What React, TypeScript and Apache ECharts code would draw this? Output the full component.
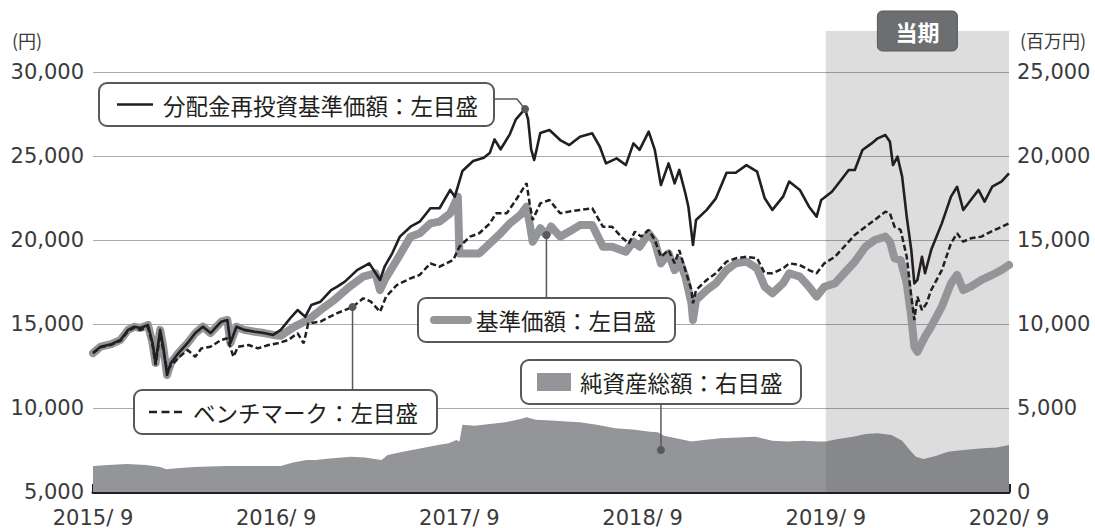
import { useEffect, useRef } from "react";
import * as echarts from "echarts";

// x = months since 2015/9 (0 .. 60)
const yearLabels = ["2015", "2016", "2017", "2018", "2019", "2020"];
const periodStart = 48; // 2019/9
const periodEnd = 60; // 2020/9
const periodLabel = "当期";

// 分配金再投資基準価額 (円, left axis)
const reinvNav: [number, number][] = [
  [0, 13270], [0.5, 13650], [1.2, 13800], [1.8, 14050], [2.3, 14650], [2.7, 14840],
  [3.1, 14760], [3.6, 14940], [3.9, 13870], [4.1, 12680], [4.4, 14650], [4.6, 13650],
  [4.85, 11960], [5.1, 12680], [5.6, 13270], [6.2, 13870], [6.7, 14460], [7.2, 14840],
  [7.7, 14460], [8.4, 15140], [8.8, 15240], [9.0, 13870], [9.4, 14840], [9.9, 14650],
  [10.6, 14540], [11.2, 14460], [11.8, 14350], [12.3, 14650], [13.0, 15430], [13.4, 15830],
  [13.9, 15430], [14.3, 16130], [14.9, 16330], [15.6, 17020], [16.0, 17220], [16.5, 17520],
  [17.3, 18210], [18.1, 18610], [18.8, 17620], [19.1, 18410], [19.6, 19210], [20.1, 20200],
  [20.8, 20790], [21.4, 21090], [22.1, 21890], [22.7, 21890], [23.4, 22980], [23.7, 22580],
  [24.2, 24110], [24.9, 24700], [25.6, 24900], [26.0, 25200], [26.3, 25990], [26.7, 25400],
  [27.3, 26290], [27.7, 27180], [28.3, 27800], [28.5, 27180], [28.7, 25400], [28.9, 24760],
  [29.3, 26370], [29.9, 26550], [30.6, 25950], [31.2, 25650], [31.9, 26150], [32.7, 26350],
  [33.2, 25550], [33.6, 24560], [34.3, 24860], [34.9, 24460], [35.4, 25750], [35.8, 25360],
  [36.4, 26450], [36.8, 25360], [37.2, 23270], [37.7, 24560], [38.1, 23370], [38.4, 24170],
  [38.8, 22780], [39.0, 21980], [39.3, 19700], [39.5, 21190], [40.2, 21790], [40.8, 22480],
  [41.5, 24000], [42.1, 24000], [42.8, 24460], [43.5, 24070], [44.0, 22480], [44.5, 21790],
  [45.2, 22580], [45.6, 23480], [46.3, 22980], [46.9, 21980], [47.4, 21390], [47.7, 22380],
  [48.4, 22870], [49.0, 23570], [49.5, 24170], [49.9, 24170], [50.4, 25360], [51.0, 25750],
  [51.4, 26050], [51.9, 26250], [52.2, 25850], [52.4, 24460], [52.7, 24960], [53.0, 23770],
  [53.3, 21390], [53.6, 19400], [53.8, 17420], [54.0, 17620], [54.3, 19000], [54.5, 18020],
  [54.9, 19400], [55.6, 20990], [56.2, 22580], [56.6, 23170], [57.0, 21790], [57.5, 22380],
  [58.0, 22980], [58.4, 22280], [58.9, 23170], [59.5, 23480], [60.0, 23970],
];

// ベンチマーク (left axis)
const benchmark: [number, number][] = [
  [0, 13270], [0.5, 13620], [1.2, 13770], [1.8, 14000], [2.3, 14580], [2.7, 14780],
  [3.1, 14650], [3.6, 14800], [3.9, 13750], [4.1, 12560], [4.4, 14400], [4.6, 13450],
  [4.85, 12260], [5.1, 12500], [5.6, 13000], [6.2, 13450], [6.7, 13050], [7.1, 13550],
  [7.7, 13650], [8.4, 14050], [8.8, 14150], [9.2, 13050], [9.5, 13650], [10.2, 13750],
  [10.8, 13550], [11.5, 13750], [12.1, 13850], [12.8, 14050], [13.4, 14450], [13.8, 13850],
  [14.1, 15040], [14.9, 15140], [15.5, 15430], [16.0, 15650], [16.5, 15830], [17.0, 16010],
  [17.7, 16530], [18.2, 16330], [18.8, 15730], [19.2, 16630], [19.9, 17320], [20.8, 17720],
  [21.4, 17920], [22.1, 18610], [22.7, 18410], [23.6, 18810], [24.0, 19600], [24.7, 20200],
  [25.3, 20400], [26.0, 20990], [26.4, 21590], [27.1, 21590], [27.7, 22380], [28.4, 23380],
  [28.6, 22180], [28.8, 21190], [29.3, 22180], [29.9, 22380], [30.6, 21590], [31.2, 21690],
  [31.9, 21790], [32.7, 21890], [33.4, 20790], [34.0, 20790], [34.7, 20100], [35.1, 19800],
  [35.5, 20500], [35.9, 20200], [36.4, 20600], [36.8, 20000], [37.2, 19000], [37.7, 19400],
  [38.1, 18610], [38.4, 19400], [38.8, 18210], [39.2, 17020], [39.3, 16230], [39.5, 17020],
  [40.2, 17620], [40.8, 18020], [41.5, 18710], [42.1, 18910], [42.8, 19000], [43.5, 18910],
  [44.0, 18020], [44.5, 18020], [45.2, 18310], [45.6, 18610], [46.3, 18510], [46.9, 18210],
  [47.4, 18020], [47.9, 18610], [48.6, 19000], [49.2, 19600], [49.9, 20300], [50.6, 20790],
  [51.2, 21190], [51.9, 21690], [52.2, 21590], [52.5, 20790], [52.9, 20600], [53.3, 19000],
  [53.6, 16630], [53.8, 15240], [54.0, 16630], [54.3, 15830], [54.6, 16230], [54.9, 17020],
  [55.6, 18210], [56.2, 19800], [56.6, 20400], [57.0, 19900], [57.5, 20100], [58.2, 20200],
  [58.6, 20400], [59.3, 20690], [60.0, 20990],
];

// 基準価額 (left axis)
const nav: [number, number][] = [
  [0, 13270], [0.5, 13650], [1.2, 13800], [1.8, 14050], [2.3, 14650], [2.7, 14840],
  [3.1, 14760], [3.6, 14940], [3.9, 13870], [4.1, 12680], [4.4, 14650], [4.6, 13650],
  [4.85, 11960], [5.1, 12680], [5.6, 13270], [6.2, 13870], [6.7, 14460], [7.2, 14840],
  [7.7, 14460], [8.4, 15140], [8.8, 15240], [9.0, 13870], [9.4, 14840], [9.9, 14650],
  [10.6, 14540], [11.2, 14460], [11.8, 14350], [12.3, 14300], [13.2, 14840], [14.1, 15240],
  [14.9, 15830], [15.8, 16430], [16.8, 17220], [17.7, 17820], [18.5, 18020], [18.8, 17020],
  [19.1, 17620], [19.9, 18810], [20.8, 20200], [21.4, 20400], [22.1, 20990], [22.7, 21090],
  [23.4, 21590], [23.9, 22580], [24.0, 19200], [24.7, 19200], [25.3, 19200], [26.0, 19800],
  [26.7, 20400], [27.3, 20990], [28.0, 21490], [28.4, 21980], [28.6, 20990], [28.8, 19900],
  [29.3, 20700], [29.7, 20300], [30.0, 20800], [30.6, 20200], [31.2, 20500], [31.9, 20890],
  [32.7, 20890], [33.4, 19600], [34.0, 19600], [34.9, 19300], [35.4, 19900], [35.8, 19600],
  [36.4, 20400], [36.8, 19900], [37.2, 18610], [37.7, 19200], [38.1, 18210], [38.4, 18810],
  [38.8, 17820], [39.2, 16230], [39.3, 15240], [39.5, 16430], [40.2, 17020], [40.8, 17420],
  [41.5, 18210], [42.1, 18610], [42.8, 18710], [43.5, 18310], [44.0, 17220], [44.5, 16830],
  [45.2, 17420], [45.6, 18020], [46.3, 17820], [46.9, 17220], [47.4, 16630], [47.9, 17220],
  [48.6, 17420], [49.2, 18020], [49.9, 18710], [50.6, 19600], [51.2, 20000], [51.9, 20200],
  [52.2, 19900], [52.5, 18910], [52.9, 18810], [53.3, 17420], [53.6, 15430], [53.8, 13650],
  [54.0, 13350], [54.5, 14250], [54.9, 14840], [55.6, 16030], [56.2, 17420], [56.6, 17920],
  [57.0, 17020], [57.5, 17220], [58.2, 17620], [58.9, 17920], [59.5, 18210], [60.0, 18510],
];

// 純資産総額 (百万円, right axis)
const netAssets: [number, number][] = [
  [0, 1550], [1.0, 1600], [2.2, 1670], [3.5, 1610], [4.4, 1490], [4.8, 1350],
  [5.5, 1420], [6.6, 1490], [8.7, 1550], [10.9, 1550], [12.3, 1550], [13.1, 1750],
  [14.0, 1900], [14.6, 1900], [15.5, 2000], [16.9, 2100], [17.8, 2050], [18.9, 1900],
  [19.3, 2200], [20.3, 2400], [21.5, 2600], [22.6, 2800], [23.3, 2900], [23.8, 3100],
  [24.0, 3000], [24.2, 4000], [25.0, 3950], [26.0, 4050], [27.0, 4150], [28.0, 4350],
  [28.4, 4450], [29.0, 4300], [30.0, 4250], [31.0, 4200], [31.9, 4150], [33.0, 4000],
  [34.2, 3800], [35.5, 3700], [36.5, 3590], [37.0, 3550], [37.4, 3350], [38.2, 3200],
  [39.2, 3000], [40.0, 3100], [41.1, 3200], [42.3, 3250], [43.4, 3290], [44.5, 3050],
  [45.5, 3000], [46.5, 3050], [47.5, 3000], [48.0, 3000], [48.8, 3150], [49.8, 3290],
  [50.6, 3450], [51.4, 3490], [52.3, 3390], [53.0, 3050], [53.5, 2500], [53.9, 2100],
  [54.4, 1960], [55.2, 2150], [56.0, 2400], [57.0, 2500], [58.3, 2600], [59.2, 2650],
  [60.0, 2800],
];

// where each callout touches its series
const reinvAnchorMonth = 28.3;
const navAnchorMonth = 29.7;
const benchAnchorMonth = 17.0;
const assetsAnchor: [number, number] = [37.2, 2500];

const labels = {
  reinv: "分配金再投資基準価額：左目盛",
  nav: "基準価額：左目盛",
  assets: "純資産総額：右目盛",
  bench: "ベンチマーク：左目盛",
};

const INK = "#231f20";
const GRAY = "#939598";
const PIN = "#58595b";
const SHADE = "rgba(85,85,90,0.2)";
const JP = '"Noto Sans CJK JP", sans-serif';
const NUM = '"DejaVu Sans", sans-serif';

const App: React.FC = () => {
  const chartRef = useRef<HTMLDivElement>(null);

  useEffect(() => {
    if (!chartRef.current) return;
    const chart = echarts.init(chartRef.current, undefined, { renderer: "svg" });

    const yLabel = { color: "#3a3a3c", fontSize: 21, fontFamily: NUM };

    chart.setOption({
      animation: false,
      grid: { left: 93, right: 86, top: 72, bottom: 36 },
      xAxis: {
        type: "value",
        min: 0,
        max: 60,
        interval: 12,
        axisLine: { onZero: false, lineStyle: { color: INK, width: 3 } },
        axisTick: { inside: true, length: 8, lineStyle: { color: INK, width: 3 } },
        axisLabel: {
          ...yLabel,
          margin: 15,
          formatter: (v: number) => `${yearLabels[Math.round(v / 12)]}/ 9`,
        },
        splitLine: { show: false },
      },
      yAxis: [
        {
          type: "value",
          min: 5000,
          max: 30000,
          interval: 5000,
          axisLine: { show: false },
          axisTick: { show: false },
          axisLabel: { ...yLabel, margin: 9, formatter: (v: number) => v.toLocaleString("en-US") },
          splitLine: { lineStyle: { color: "#a7a9ac", width: 1 } },
        },
        {
          type: "value",
          min: 0,
          max: 25000,
          interval: 5000,
          axisLine: { show: false },
          axisTick: { show: false },
          axisLabel: { ...yLabel, margin: 8, formatter: (v: number) => v.toLocaleString("en-US") },
          splitLine: { show: false },
        },
      ],
      series: [
        {
          name: "純資産総額",
          type: "line",
          yAxisIndex: 1,
          data: netAssets,
          symbol: "none",
          z: 1,
          lineStyle: { width: 0 },
          areaStyle: { color: GRAY, opacity: 1 },
          markArea: {
            silent: true,
            z: 2,
            itemStyle: { color: SHADE },
            data: [[{ xAxis: periodStart }, { xAxis: periodEnd }]],
          },
        },
        {
          name: "基準価額",
          type: "line",
          data: nav,
          symbol: "none",
          z: 3,
          lineStyle: { color: GRAY, width: 8, cap: "round", join: "round" },
        },
        {
          name: "ベンチマーク",
          type: "line",
          data: benchmark,
          symbol: "none",
          z: 4,
          lineStyle: { color: INK, width: 2.5, type: [6, 3] },
        },
        {
          name: "分配金再投資基準価額",
          type: "line",
          data: reinvNav,
          symbol: "none",
          z: 5,
          lineStyle: { color: INK, width: 2.6, join: "round" },
        },
      ],
    });

    // annotations placed from the axes' own scales
    const at = (series: [number, number][], m: number) => series.find((p) => p[0] === m)!;
    const px = (p: [number, number], yi = 0) =>
      chart.convertToPixel({ xAxisIndex: 0, yAxisIndex: yi }, p) as number[];

    const reinvPt = px(at(reinvNav, reinvAnchorMonth));
    const navPt = px(at(nav, navAnchorMonth));
    const benchPt = px(at(benchmark, benchAnchorMonth));
    const assetsPt = px(assetsAnchor, 1);
    const bandL = px([periodStart, 30000])[0];
    const bandR = px([periodEnd, 30000])[0];
    const plotTop = px([periodStart, 30000])[1];
    const bandMid = (bandL + bandR) / 2;

    const box = (x: number, y: number, w: number, h: number) => ({
      type: "rect", z: 100,
      shape: { x, y, width: w, height: h, r: 8 },
      style: { fill: "#fff", stroke: PIN, lineWidth: 2 },
    });
    const text = (x: number, y: number, t: string) => ({
      type: "text", z: 101, x, y,
      style: { text: t, fontSize: 22.5, fontFamily: JP, fill: INK, verticalAlign: "middle" },
    });
    const line = (x1: number, y1: number, x2: number, y2: number, z = 99, extra = {}) => ({
      type: "line", z,
      shape: { x1, y1, x2, y2 },
      style: { stroke: PIN, lineWidth: 1.5, ...extra },
    });
    const dot = (p: number[]) => ({
      type: "circle", z: 102, shape: { cx: p[0], cy: p[1], r: 4 }, style: { fill: PIN },
    });

    chart.setOption({
      graphic: [
        // shaded period band reaching above the plot, with its tab
        { type: "rect", z: 0, shape: { x: bandL, y: 31, width: bandR - bandL, height: plotTop - 31 }, style: { fill: SHADE } },
        { type: "rect", z: 100, shape: { x: bandMid - 40, y: 11, width: 80, height: 40, r: 5 }, style: { fill: "#6d6e71", stroke: PIN, lineWidth: 1 } },
        { type: "text", z: 101, x: bandMid, y: 31, style: { text: periodLabel, fontSize: 22, fontWeight: "bold", fontFamily: JP, fill: "#fff", align: "center", verticalAlign: "middle" } },
        // unit captions
        { type: "text", x: 12, y: 40, style: { text: "(円)", fontSize: 18, fontFamily: JP, fill: "#3a3a3c", verticalAlign: "middle" } },
        { type: "text", x: 1020, y: 40, style: { text: "(百万円)", fontSize: 18, fontFamily: JP, fill: "#3a3a3c", verticalAlign: "middle" } },

        // 分配金再投資基準価額
        { type: "polyline", z: 99, shape: { points: [[494, 99], [517, 99], reinvPt] }, style: { stroke: PIN, lineWidth: 1.5, fill: null } },
        box(99, 83, 395, 43),
        line(117, 104.5, 153, 104.5, 101, { stroke: INK, lineWidth: 2.5 }),
        text(163, 105, labels.reinv),
        dot(reinvPt),

        // 基準価額
        line(navPt[0], navPt[1], navPt[0], 298),
        box(418, 298, 257, 44),
        line(434, 320, 468, 320, 101, { stroke: GRAY, lineWidth: 8, lineCap: "round" }),
        text(476, 320, labels.nav),
        dot(navPt),

        // 純資産総額
        line(assetsPt[0], 404, assetsPt[0], assetsPt[1]),
        box(521, 360, 280, 44),
        { type: "rect", z: 101, shape: { x: 537, y: 373, width: 34, height: 18 }, style: { fill: GRAY } },
        text(580, 382, labels.assets),
        dot(assetsPt),

        // ベンチマーク
        line(benchPt[0], benchPt[1], benchPt[0], 390),
        box(134, 390, 303, 44),
        line(149, 412, 182, 412, 101, { stroke: INK, lineWidth: 2.5, lineDash: [8, 4.5] }),
        text(193, 412, labels.bench),
        dot(benchPt),
      ],
    });

    return () => {
      chart.dispose();
    };
  }, []);

  return (
    <div
      ref={chartRef}
      style={{ position: "absolute", left: 0, top: 0, width: "1095px", height: "528px", background: "#fff" }}
    />
  );
};

export default App;
